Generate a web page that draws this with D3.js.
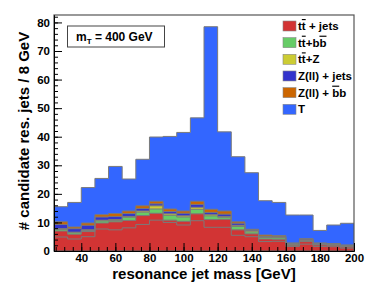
<!DOCTYPE html>
<html>
<head>
<meta charset="utf-8">
<script src="https://cdn.jsdelivr.net/npm/d3@7"></script>
<style>
  body { margin: 0; background: #fff; }
  text { font-family: "Liberation Sans", Arial, sans-serif; font-weight: bold; }
</style>
</head>
<body>
<div id="chart"></div>
<script>
(function() {
  var width = 374,
     height = 296;

  // bin edges: 8 GeV bins from 24 to 200
  var binLow = [24, 32, 40, 48, 56, 64, 72, 80, 88, 96, 104, 112, 120, 128, 136, 144, 152, 160, 168, 176, 184, 192];
  var binHigh = 200;

  // per-layer contents, bottom of the stack first
  var ttjetsA = [4.9, 4.2, 5.0, 7.7, 7.4, 8.1, 9.3, 10.8, 10.0, 9.1, 10.6, 8.3, 8.3, 5.5, 5.0, 3.3, 3.4, 1.6, 2.4, 1.6, 1.5, 1.0];
  var ttjetsB = [2.1, 1.7, 1.8, 2.1, 2.8, 2.6, 3.1, 2.4, 0.8, 1.3, 2.4, 2.7, 2.8, 1.9, 1.0, 0.9, 0.7, 0.4, 0.9, 0.5, 0.5, 0.4];
  var ttbb    = [0.5, 0.5, 0.4, 0.7, 0.5, 1.1, 1.2, 1.5, 1.7, 1.5, 1.6, 1.3, 0.7, 1.2, 0.7, 0.5, 0.5, 0.3, 0.3, 0.2, 0.2, 0.2];
  var ttZ     = [0.3, 0.2, 0.2, 0.3, 0.3, 0.3, 0.4, 1.1, 0.5, 0.4, 0.7, 0.5, 0.3, 0.4, 0.4, 0.2, 0.2, 0.2, 0.2, 0.2, 0.2, 0.2];
  var zjets   = [1.5, 1.2, 1.6, 1.1, 1.1, 1.0, 0.9, 0.7, 0.8, 0.9, 1.0, 0.7, 0.8, 0.7, 0.3, 0.2, 0.2, 0.2, 0.3, 0.2, 0.1, 0.2];
  var zbb     = [0.9, 0.6, 0.8, 0.8, 1.0, 0.9, 0.9, 0.9, 0.9, 0.8, 1.1, 1.1, 1.1, 0.5, 0.2, 0.5, 0.4, 0.1, 0.2, 0.1, 0.1, 0.1];
  var signalT = [5.3, 8.6, 12.4, 12.7, 16.5, 11.2, 16.3, 22.5, 25.4, 27.5, 29.2, 63.9, 27.7, 22.8, 19.8, 12.0, 11.6, 9.8, 8.3, 4.4, 6.5, 7.6];

  var keys = ["ttjetsA", "ttjetsB", "ttbb", "ttZ", "zjets", "zbb", "T"];
  var colors = {
    ttjetsA: "#d23434", ttjetsB: "#d23434", ttbb: "#66cc66", ttZ: "#cccc33",
    zjets: "#3333cc", zbb: "#cc6600", T: "#3366ff"
  };

  var yTicks = [0, 10, 20, 30, 40, 50, 60, 70, 80];
  var xTicks = [40, 60, 80, 100, 120, 140, 160, 180, 200];

  var legendItems = [
    { key: "ttjetsA", parts: [["t", 0], ["t", 1], [" + jets", 0]] },
    { key: "ttbb", parts: [["t", 0], ["t", 1], ["+b", 0], ["b", 1]] },
    { key: "ttZ", parts: [["t", 0], ["t", 1], ["+Z", 0]] },
    { key: "zjets", parts: [["Z(ll) + jets", 0]] },
    { key: "zbb", parts: [["Z(ll) + ", 0], ["b", 1], ["b", 0]] },
    { key: "T", parts: [["T", 0]] }
  ];

  var rows = binLow.map(function(lo, i) {
    return { lo: lo, ttjetsA: ttjetsA[i], ttjetsB: ttjetsB[i], ttbb: ttbb[i], ttZ: ttZ[i],
      zjets: zjets[i], zbb: zbb[i], T: signalT[i] };
  });

  var svg = d3.select("#chart")
  .append("svg")
  .attr("width", width)
  .attr("height", height);

  var left = 54, right = 354, top = 15, bottom = 251;

  var x = d3.scaleLinear().domain([24, binHigh]).range([left, right]);
  var y = d3.scaleLinear().domain([0, 82.6]).range([bottom, top]);

  var series = d3.stack().keys(keys)(rows);

  // ROOT-style stack: each cumulative histogram filled from zero, biggest first
  var area = d3.area()
  .curve(d3.curveStepAfter)
  .x(function(d) { return x(d[0]); })
  .y0(y(0))
  .y1(function(d) { return y(d[1]); });

  var line = d3.line()
  .curve(d3.curveStepAfter)
  .x(function(d) { return x(d[0]); })
  .y(function(d) { return y(d[1]); });

  var layers = series.map(function(s) {
    var pts = s.map(function(d, i) { return [binLow[i], d[1]]; });
    pts.push([binHigh, s[s.length - 1][1]]);
    return { key: s.key, pts: pts };
  }).reverse();

  svg.selectAll(".fill")
  .data(layers)
  .enter()
  .append("path")
  .attr("class", "fill")
  .attr("d", function(d) { return area(d.pts); })
  .attr("fill", function(d) { return colors[d.key]; });

  // outlines drawn after fills, bottom layers last so they stay visible
  svg.selectAll(".outline")
  .data(layers)
  .enter()
  .append("path")
  .attr("class", "outline")
  .attr("d", function(d) { return line(d.pts); })
  .attr("fill", "none")
  .attr("stroke", "#7a7a7a")
  .attr("stroke-width", 1);

  // frame
  svg.append("rect")
  .attr("x", left).attr("y", top)
  .attr("width", right - left).attr("height", bottom - top)
  .attr("fill", "none")
  .attr("stroke", "#555")
  .attr("stroke-width", 1.2);

  // axes with inward ticks
  svg.append("g")
  .attr("transform", "translate(" + left + ",0)")
  .call(d3.axisLeft(y).tickValues(yTicks).tickSize(-8).tickSizeOuter(0).tickPadding(4));

  svg.append("g")
  .attr("transform", "translate(" + left + ",0)")
  .call(d3.axisLeft(y).tickValues(d3.range(0, 82.6, 2)).tickSize(-4).tickSizeOuter(0).tickFormat(""));

  svg.append("g")
  .attr("transform", "translate(0," + bottom + ")")
  .call(d3.axisBottom(x).tickValues(xTicks).tickSize(-8).tickSizeOuter(0).tickPadding(3));

  svg.append("g")
  .attr("transform", "translate(0," + bottom + ")")
  .call(d3.axisBottom(x).tickValues(d3.range(25, 201, 5)).tickSize(-4).tickSizeOuter(0).tickFormat(""));

  svg.selectAll(".domain").attr("stroke", "#000");
  svg.selectAll(".tick line").attr("stroke", "#000");
  svg.selectAll(".tick text")
  .attr("font-size", 11.5)
  .attr("font-family", "Liberation Sans, Arial, sans-serif")
  .attr("font-weight", "bold")
  .attr("fill", "#000");

  // axis titles
  svg.append("text")
  .attr("x", (left + right) / 2)
  .attr("y", 278.5)
  .attr("text-anchor", "middle")
  .attr("font-size", 15)
  .text("resonance jet mass [GeV]");

  svg.append("text")
  .attr("transform", "translate(29," + ((top + bottom) / 2 - 2) + ") rotate(-90)")
  .attr("text-anchor", "middle")
  .attr("font-size", 15)
  .text("# candidate res. jets / 8 GeV");

  // mass label box
  svg.append("rect")
  .attr("x", 67.5).attr("y", 26)
  .attr("width", 97).attr("height", 21)
  .attr("fill", "#fff")
  .attr("stroke", "#444")
  .attr("stroke-width", 1);

  var mt = svg.append("text")
  .attr("x", 76)
  .attr("y", 41)
  .attr("font-size", 12);
  mt.append("tspan").text("m");
  mt.append("tspan").attr("font-size", 8).attr("dy", 3).text("T");
  mt.append("tspan").attr("dy", -3).text(" = 400 GeV");

  // legend
  var legend = svg.selectAll(".legend")
  .data(legendItems)
  .enter()
  .append("g")
  .attr("class", "legend")
  .attr("transform", function(d, i) { return "translate(283," + (26 + i * 16.66) + ")"; });

  legend.append("rect")
  .attr("x", 0).attr("y", -5)
  .attr("width", 13).attr("height", 10)
  .attr("fill", function(d) { return colors[d.key]; })
  .attr("stroke", "#888")
  .attr("stroke-width", 0.6);

  legend.append("text")
  .attr("x", 15)
  .attr("y", 4)
  .attr("font-size", 11.5)
  .each(function(d) {
    var t = d3.select(this);
    d.parts.forEach(function(p) {
      var sp = t.append("tspan").text(p[0]);
      if (p[1]) sp.style("text-decoration", "overline");
    });
  });
})();
</script>
</body>
</html>
